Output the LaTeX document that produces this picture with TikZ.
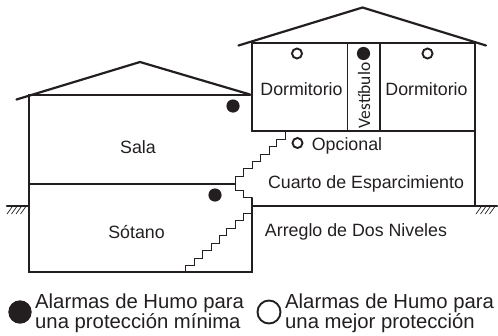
\documentclass[tikz,border=0pt]{standalone}
\usepackage{fontspec}
\setmainfont{Liberation Sans}
\newfontfamily\vestfont{Carlito}
\definecolor{ink}{HTML}{231F20}
\tikzset{
  wall/.style={draw=ink,line width=2.2pt,line cap=round,line join=miter},
  thinwall/.style={draw=ink,line width=1.1pt},
  stair/.style={draw=ink,line width=1pt,line join=miter},
  hatch/.style={draw=ink,line width=0.7pt},
  fulldot/.style={fill=ink,draw=none},
  opendot/.style={draw=ink,line width=1.9pt,fill=none},
  room/.style={text=ink,font=\fontsize{17.8}{20}\selectfont,inner sep=0pt,anchor=base},
  legendtext/.style={text=ink,font=\fontsize{20.3}{22}\selectfont,inner sep=0pt,anchor=base west},
}
\begin{document}
\begin{tikzpicture}[x=1pt,y=-1pt]
\useasboundingbox (0,0) rectangle (498,335);
% roofs
\draw[wall] (16.5,99.5) -- (140,62) -- (250,94.5);
\draw[wall] (238.5,45.5) -- (362.5,7.5) -- (486,45.5);
% left block
\draw[wall] (250,95) -- (29,95) -- (29,272) -- (252,272) -- (252,198);
\draw[wall] (29,184) -- (235,184);
% right block
\draw[wall] (252,131) -- (252,43) -- (475,43) -- (475,206);
\draw[wall] (252,131) -- (475,131);
\draw[wall] (252,206) -- (475,206);
\draw[thinwall] (347.5,43) -- (347.5,131);
\draw[thinwall] (380,43) -- (380,131);
% ground
\draw[wall] (7,206) -- (29,206);
\draw[wall] (475,206) -- (497,206);
\foreach \x in {7,11.5,16,20.5}{\draw[hatch] (\x,214) -- (\x+5,207);}
\foreach \x in {476,480.5,485,489.5}{\draw[hatch] (\x,214) -- (\x+5,207);}
% stairs
\draw[stair] (285,131) -- (285,139) -- (276.3,139) -- (276.3,146.3) -- (269,146.3) -- (269,154) -- (260.7,154) -- (260.7,161) -- (252.3,161) -- (252.3,168.3) -- (243.3,168.3) -- (243.3,176) -- (235,176) -- (235,190) -- (243.3,190) -- (243.3,197.7) -- (252.3,197.7);
\draw[stair] (252,213.3) -- (243.3,213.3) -- (243.3,220.7) -- (235,220.7) -- (235,228.3) -- (226.7,228.3) -- (226.7,235.7) -- (219,235.7) -- (219,243) -- (211.3,243) -- (211.3,250.7) -- (202.7,250.7) -- (202.7,258) -- (194.3,258) -- (194.3,265) -- (185.7,265) -- (185.7,272);
% alarms
\fill[fulldot] (233,106) circle (6.6);
\fill[fulldot] (215,195) circle (6.6);
\fill[fulldot] (363.5,53.5) circle (6.6);
\draw[opendot] (297,53.5) circle (5);
\draw[opendot] (427.5,53.5) circle (5);
\draw[opendot] (297.5,143) circle (5);
\fill[fulldot] (20,312) circle (11.7);
\draw[opendot] (269,312) circle (11.5);
% labels
\node[room] (sala) at (138,153) {Sala};
\node[room] (dorm1) at (301.5,95) {Dormitorio};
\node[room] (dorm2) at (426.5,95) {Dormitorio};
\node[room,font=\vestfont\fontsize{17.5}{18}\selectfont,rotate=90,anchor=base] (vest) at (370,95.5) {Vestíbulo};
\node[room] (opc) at (347,150) {Opcional};
\node[room] (cuarto) at (366,188) {Cuarto de Esparcimiento};
\node[room] (sotano) at (136.5,238) {Sótano};
\node[room] (arreglo) at (356,236.5) {Arreglo de Dos Niveles};
\node[legendtext] (l1) at (35,308.5) {Alarmas de Humo para};
\node[legendtext] (l2) at (35,328) {una protección mínima};
\node[legendtext] (l3) at (285,308.5) {Alarmas de Humo para};
\node[legendtext] (l4) at (285,328) {una mejor protección};
\end{tikzpicture}
\end{document}
